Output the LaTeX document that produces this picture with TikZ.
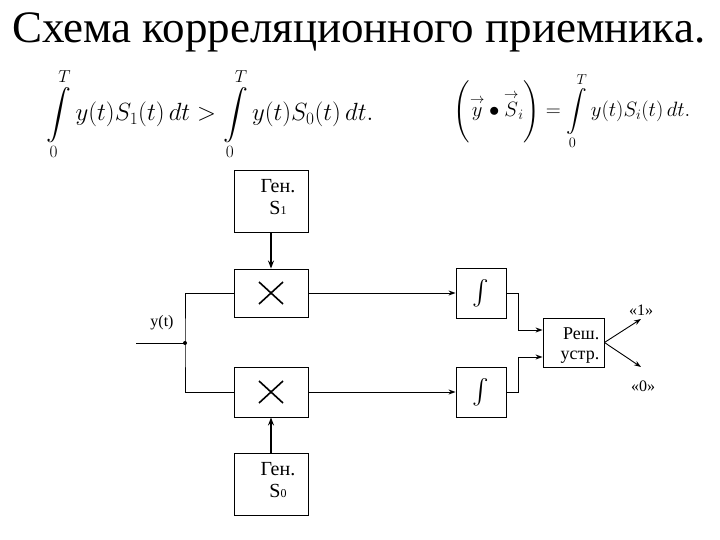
\documentclass[tikz,border=0pt]{standalone}
\usepackage{amsmath}
\usepackage{fontspec}
\setmainfont{Liberation Serif}
\usetikzlibrary{arrows.meta}
\begin{document}
\begin{tikzpicture}[x=1pt,y=-1pt,
  blk/.style={draw,line width=0.9pt,inner sep=0pt,fill=white},
  lbl/.style={inner sep=0pt,font=\fontsize{16}{17}\selectfont},
  gtxt/.style={inner sep=0pt,align=center,font=\fontsize{20}{22}\selectfont},
  itg/.style={blk,minimum width=50pt,minimum height=50pt,font=\fontsize{30}{32}\selectfont},
  wire/.style={line width=0.9pt},
  arr/.style={wire,-{Stealth[length=7pt,width=5pt]}},
  garr/.style={line width=1.6pt,-{Stealth[length=8pt,width=6pt]}}]
\useasboundingbox (0,0) rectangle (720,540);
% title
\node[inner sep=0pt,anchor=base west,font=\fontsize{45}{48}\selectfont] (title) at (12,43) {Схема корреляционного приемника.};
% formulas
\node[inner sep=0pt,font=\fontsize{25}{28}\selectfont] (f1) at (210,114)
 {$\displaystyle\int\limits_0^T y(t)S_1(t)\,dt>\int\limits_0^T y(t)S_0(t)\,dt.$};
\node[inner sep=0pt,font=\fontsize{19.5}{22}\selectfont] (f2) at (572,111)
 {$\displaystyle\Biggl(\overset{\rightarrow}{y}\bullet\overset{\rightarrow}{S}_{i}\Biggr)=\int\limits_0^T y(t)S_i(t)\,dt.$};
% blocks
\node[blk,minimum width=74pt,minimum height=62pt] (g1) at (271,201) {};
\node[gtxt] (g1t) at (278,197) {Ген.\\S{\fontsize{12}{12}\selectfont 1}};
\node[blk,minimum width=74pt,minimum height=48pt] (m1) at (271,293) {};
\node[blk,minimum width=74pt,minimum height=50pt] (m0) at (271,392) {};
\node[blk,minimum width=74pt,minimum height=62pt] (g0) at (271,484) {};
\node[gtxt] (g0t) at (278,480) {Ген.\\S{\fontsize{12}{12}\selectfont 0}};
\node[itg] (i1) at (481,293) {$\int$};
\node[itg] (i0) at (481,392) {$\int$};
\node[blk,minimum width=61pt,minimum height=49pt] (d) at (573.5,342.5) {};
\node[lbl,align=right,font=\fontsize{18}{20}\selectfont] (dt) at (580,346) {Реш.\\устр.};
% crosses
\foreach \m in {m1,m0}{
  \draw[line width=1.6pt] ([shift={(-12,-11)}]\m.center) -- ([shift={(12,11)}]\m.center);
  \draw[line width=1.6pt] ([shift={(-12,11)}]\m.center) -- ([shift={(12,-11)}]\m.center);
}
% input
\coordinate (in) at (136,343);
\coordinate (j) at (185,343);
\node[lbl] (ylab) at (162,323) {y(t)};
\draw[wire] (in) -- (j);
\fill (j) circle (2pt);
\draw[wire] (m1.west) -| (j) |- (m0.west);
% gens
\draw[garr] (g1.south) -- (m1.north);
\draw[garr] (g0.north) -- (m0.south);
% to integrators
\draw[arr] (m1.east) -- (i1.west);
\draw[arr] (m0.east) -- (i0.west);
% to decision
\draw[arr] (i1.east) -- (518,293) |- (d.west |- 0,330);
\draw[arr] (i0.east) -- (518,392) |- (d.west |- 0,357);
% outputs
\coordinate (o1) at (641,319);
\coordinate (o0) at (641,367);
\draw[arr] (d.east) -- (o1);
\draw[arr] (d.east) -- (o0);
\node[lbl] (l1) at (641,310) {«1»};
\node[lbl] (l0) at (643,386) {«0»};
\end{tikzpicture}
\end{document}
